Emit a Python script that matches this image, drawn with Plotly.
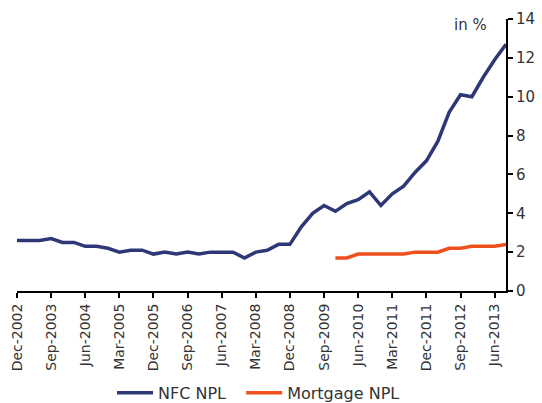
import plotly.graph_objects as go

quarters = []
months = ["Mar", "Jun", "Sep", "Dec"]
years = list(range(2002, 2014))
for y in years:
    for m in months:
        quarters.append(f"{m}-{y}")
quarters = quarters[quarters.index("Dec-2002"):quarters.index("Sep-2013") + 1]

nfc_npl = [2.6, 2.6, 2.6, 2.7, 2.5, 2.5, 2.3, 2.3, 2.2, 2.0, 2.1, 2.1,
           1.9, 2.0, 1.9, 2.0, 1.9, 2.0, 2.0, 2.0, 1.7, 2.0, 2.1, 2.4,
           2.4, 3.3, 4.0, 4.4, 4.1, 4.5, 4.7, 5.1, 4.4, 5.0, 5.4, 6.1,
           6.7, 7.7, 9.2, 10.1, 10.0, 11.0, 11.9, 12.7]

mortgage_npl = [None] * 28 + [1.7, 1.7, 1.9, 1.9, 1.9, 1.9, 1.9, 2.0,
                              2.0, 2.0, 2.2, 2.2, 2.3, 2.3, 2.3, 2.4]

tick_labels = quarters[::3]
y_ticks = [0, 2, 4, 6, 8, 10, 12, 14]

FONT = "DejaVu Sans"
TXT = "#333333"
NBSP = "\u00a0"

fig = go.Figure()
fig.add_trace(go.Scatter(x=quarters, y=nfc_npl, mode="lines", name="NFC NPL" + NBSP * 2,
                         line=dict(color="#2E3876", width=3.5)))
fig.add_trace(go.Scatter(x=quarters, y=mortgage_npl, mode="lines", name="Mortgage NPL",
                         line=dict(color="#F0501E", width=3.5)))

fig.update_layout(
    width=542, height=403,
    margin=dict(l=17, r=36, t=19, b=112, autoexpand=False),
    paper_bgcolor="white", plot_bgcolor="white",
    font=dict(family=FONT, color=TXT, size=14),
    showlegend=True,
    legend=dict(orientation="h", xref="container", yref="container",
                x=0.477, xanchor="center", y=0.025, yanchor="middle",
                font=dict(size=16, color=TXT), itemwidth=36,
                bgcolor="rgba(0,0,0,0)"),
    xaxis=dict(type="category", range=[0, len(quarters) - 1], automargin=False,
               tickmode="array", tickvals=tick_labels, ticktext=tick_labels,
               tickangle=-90, ticks="outside", ticklen=5, tickwidth=1.5,
               tickcolor="black", showline=True, linecolor="black", linewidth=2,
               showgrid=False, zeroline=False, tickfont=dict(size=14, color=TXT)),
    yaxis=dict(side="right", range=[0, 14], tickvals=y_ticks, automargin=False,
               ticks="outside", ticklen=5, tickwidth=1.5, tickcolor="black",
               showline=True, linecolor="black", linewidth=2,
               showgrid=False, zeroline=False, tickfont=dict(size=15, color=TXT)),
    annotations=[dict(text="in %", xref="paper", yref="paper", x=0.965, y=0.978,
                      xanchor="right", yanchor="middle", showarrow=False,
                      font=dict(size=15, color=TXT))],
)

fig.write_html("out.html", config={"displayModeBar": False},
               post_script="document.body.style.margin='0';document.body.style.padding='0';")
